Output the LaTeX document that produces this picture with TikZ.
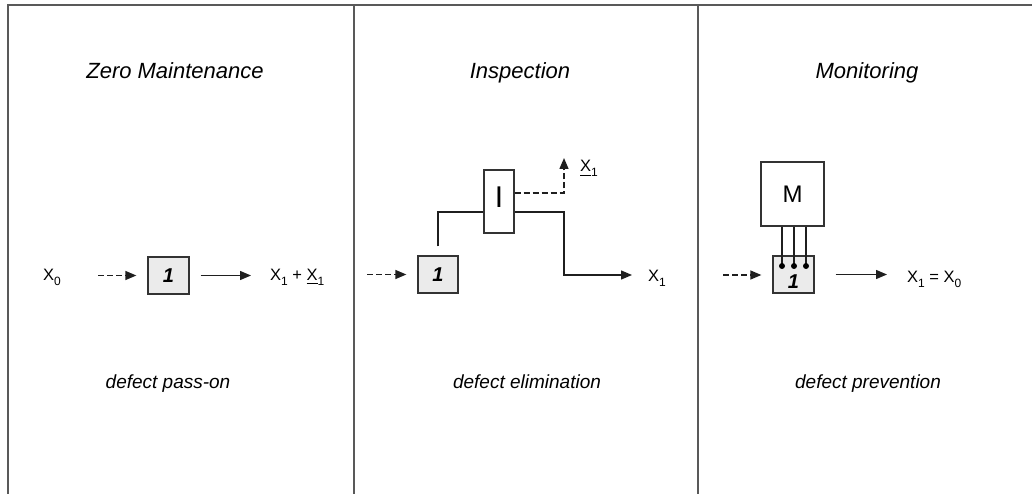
\documentclass[tikz,border=0pt]{standalone}
\usepackage{fontspec}
\setmainfont{Liberation Sans}
\usetikzlibrary{arrows.meta}
\newcommand\fsz[1]{\fontsize{#1}{#1}\selectfont}
\newcommand\Xsb[1]{X\raisebox{-5pt}{\fsz{12}#1}}
\newcommand\uXsb[1]{\rlap{\rule[-4pt]{11pt}{1pt}}X\raisebox{-5pt}{\fsz{12}#1}}
\begin{document}
\begin{tikzpicture}[x=1pt,y=-1pt,
  frame/.style={draw=black!65,line width=2pt},
  conn/.style={draw=black!88,line width=1.4pt},
  tip/.style={-{Triangle[length=11pt,width=9pt]}},
  dsh/.style={dash pattern=on 6pt off 3pt},
  blk/.style={draw=black!80,line width=1.3pt,fill=black!8,minimum width=41pt,minimum height=37pt,inner sep=0pt},
  wbox/.style={draw=black!80,line width=1.3pt,fill=white,inner sep=0pt},
  one/.style={font=\fsz{20}\bfseries\itshape,inner sep=0pt},
  lbl/.style={font=\fsz{16.5},inner sep=0pt,anchor=base west},
  title/.style={font=\fsz{22}\itshape,inner sep=0pt,anchor=base},
  note/.style={font=\fsz{19}\itshape,inner sep=0pt,anchor=base},
  dot/.style={fill=black}
]
\useasboundingbox (0,0) rectangle (1032,494);
% frame
\draw[frame] (8,494) -- (8,5.5) -- (1032,5.5);
\draw[frame] (354,5.5) -- (354,494);
\draw[frame] (698,5.5) -- (698,494);

% titles
\node[title] (t1) at (175,79) {Zero Maintenance};
\node[title] (t2) at (520,79) {Inspection};
\node[title] (t3) at (867,79) {Monitoring};
\node[note] (n1) at (168,388) {defect pass-on};
\node[note] (n2) at (527,388) {defect elimination};
\node[note] (n3) at (868,388) {defect prevention};

% panel 1
\node[blk] (a1) at (168.5,275.5) {};
\node[one] (a1t) at (a1.center) {1};
\node[lbl] (x0) at (43,280) {\Xsb{0}};
\node[lbl] (out1) at (270,280) {\Xsb{1} + \uXsb{1}};
\coordinate (in1) at (98,275.5);
\draw[conn,dsh,tip,shorten >=11pt] (in1) -- (a1.west);
\draw[conn,tip,shorten <=11pt,shorten >=19pt] (a1.east) -- (a1.east -| out1.west);

% panel 2
\node[blk,minimum width=40pt] (a2) at (438,274.5) {};
\node[one] (a2t) at (a2.center) {1};
\node[wbox,minimum width=30pt,minimum height=63pt] (I) at (499,201.5) {};
\node[inner sep=0pt,font=\fsz{30}] (It) at ([yshift=4pt]I.center) {I};
\coordinate (iLoL) at ([yshift=-10.5pt]I.west);
\coordinate (iLoR) at ([yshift=-10.5pt]I.east);
\coordinate (iHiR) at ([yshift=8.5pt]I.east);
\coordinate (up) at (564,158);
\coordinate (bend) at (564,275);
\coordinate (in2) at (367,274.5);
\node[lbl] (xu) at (580,172) {\uXsb{1}};
\node[lbl] (x1) at (648,281) {\Xsb{1}};
\draw[conn,dsh,tip,shorten >=11pt] (in2) -- (a2.west);
\draw[conn] ([yshift=9pt]a2.north) |- (iLoL);
\draw[conn,dsh,tip] (iHiR) -| (up);
\draw[conn,tip,shorten >=16pt] (iLoR) -| (bend) -- (bend -| x1.west);

% panel 3
\node[wbox,minimum width=63pt,minimum height=64pt] (M) at (792.5,194) {};
\node[inner sep=0pt,font=\fsz{24}] (Mt) at (M.center) {M};
\node[blk] (a3) at (793.5,274.5) {};
\node[one] (a3t) at ([yshift=-7.5pt]a3.center) {1};
\coordinate (d1) at (782,266);
\coordinate (d2) at (794,266);
\coordinate (d3) at (806,266);
\foreach \d in {d1,d2,d3}{
  \draw[conn] (\d |- M.south) -- (\d);
  \fill[dot] (\d) circle (3pt);
}
\coordinate (in3) at (723,275);
\node[lbl] (out3) at (907,282) {\Xsb{1} = \Xsb{0}};
\draw[conn,dsh,tip,shorten >=11pt] (in3) -- (in3 -| a3.west);
\draw[conn,tip,shorten <=21pt,shorten >=20pt] (a3.east) -- (a3.east -| out3.west);
\end{tikzpicture}
\end{document}
